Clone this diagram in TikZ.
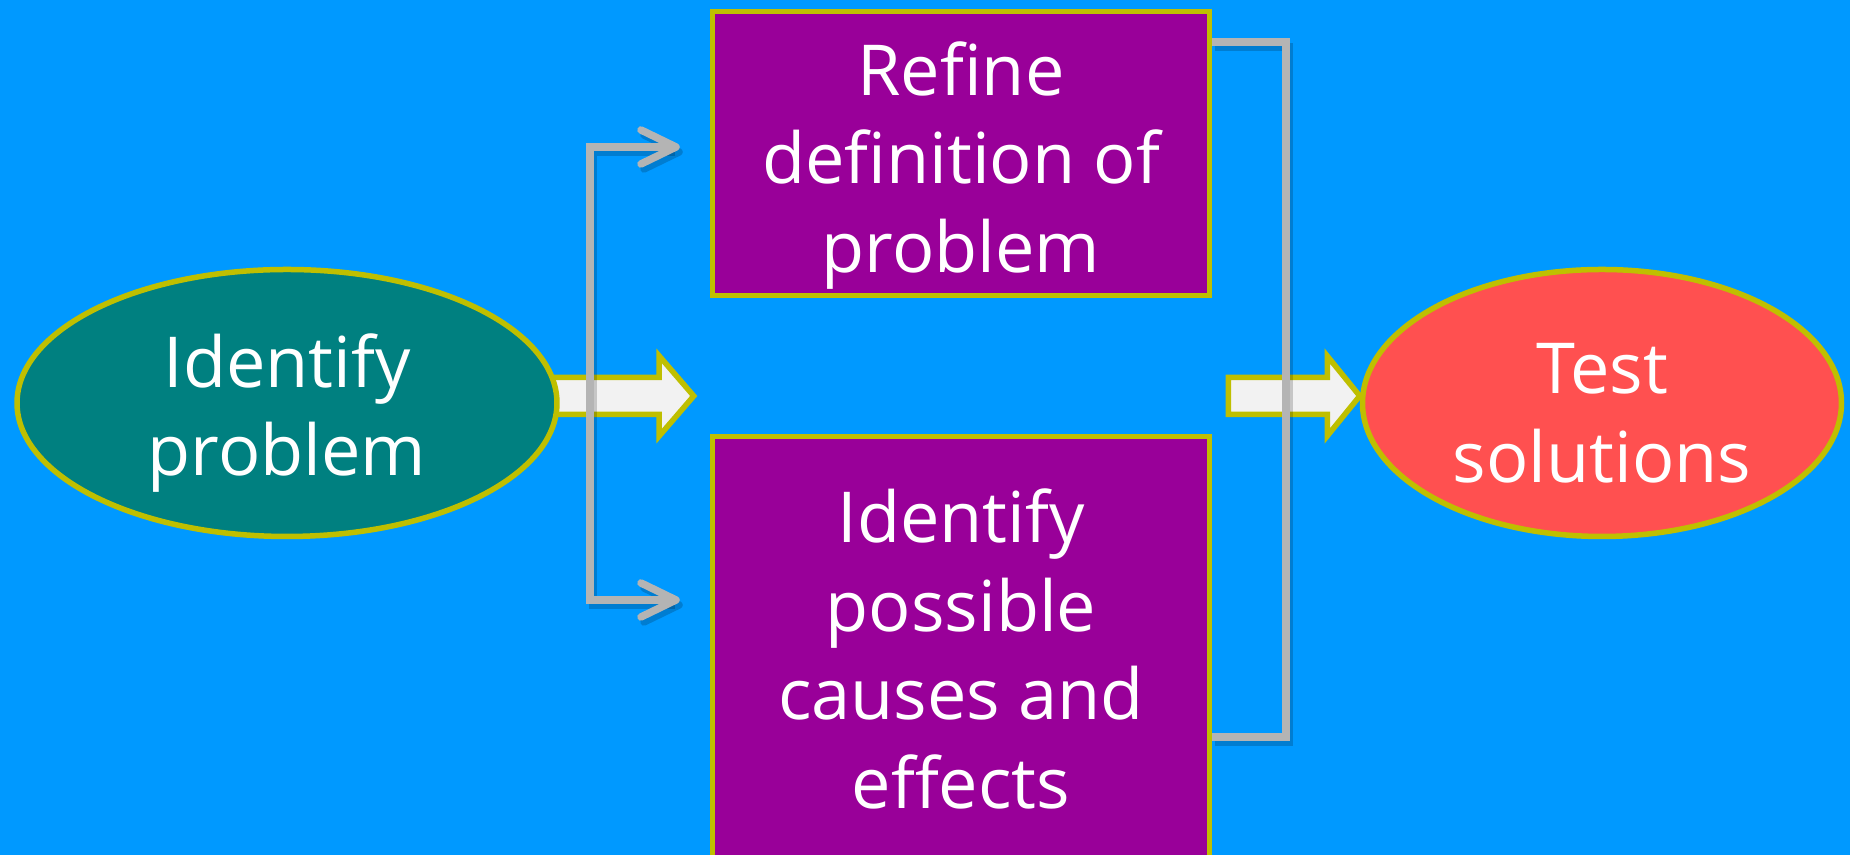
\documentclass[tikz,border=0pt]{standalone}
\usepackage{fontspec}
\setmainfont[Ligatures=NoCommon]{Open Sans}
\usetikzlibrary{arrows.meta,shapes.geometric,calc}
\definecolor{bgblue}{RGB}{0,153,255}
\definecolor{tealfill}{RGB}{0,128,128}
\definecolor{purp}{RGB}{153,0,153}
\definecolor{edgey}{RGB}{191,191,0}
\definecolor{coral}{RGB}{255,80,80}
\definecolor{arrowfill}{RGB}{242,242,242}
\definecolor{conn}{RGB}{180,180,180}
\pgfdeclarelayer{bglayer}
\pgfdeclarelayer{midlayer}
\pgfsetlayers{bglayer,midlayer,main}
\begin{document}
\begin{tikzpicture}[x=0.1mm,y=-0.1mm,
  lbl/.style={text=white, font=\fontsize{20}{25.2}\selectfont, align=center},
  oval/.style={ellipse, draw=edgey, line width=0.55mm, lbl, inner sep=0pt},
  boxx/.style={rectangle, draw=edgey, line width=0.55mm, fill=purp, lbl, minimum width=49.7mm, inner sep=0pt},
  blk/.style={draw=edgey, line width=0.55mm, fill=arrowfill, line join=miter},
  gline/.style={draw=conn, line width=0.75mm, line join=miter,
    preaction={draw=black, opacity=0.18, line width=0.75mm, transform canvas={xshift=0.3mm, yshift=-0.5mm}}},
  barb/.tip={Straight Barb[length=3.5mm,width=3.4mm,round]}]
\useasboundingbox (0,0) rectangle (1850,855);
\clip (0,0) rectangle (1850,855);
\begin{pgfonlayer}{bglayer}
\fill[bgblue] (0,0) rectangle (1850,855);
\end{pgfonlayer}

\node[oval, fill=tealfill, minimum width=54mm, minimum height=26.7mm] (idp) at (287,403) {};
\node[lbl] (idptxt) at ($(idp.center)+(0,10)$) {Identify\\problem};
\node[oval, fill=coral, minimum width=47.9mm, minimum height=26.7mm] (test) at (1602,403) {};
\node[lbl] (testtxt) at ($(test.center)+(0,10)$) {Test\\solutions};
\node[boxx, minimum height=28.4mm] (refine) at (961,153.5) {};
\node[lbl] (refinetxt) at ($(refine.center)+(0,12)$) {Refine\\definition of\\problem};
\node[boxx, minimum height=42.5mm] (causes) at (961,649) {Identify\\possible\\causes and\\effects};

\begin{pgfonlayer}{midlayer}
\coordinate (lc) at ($(idp.east)+(-15,-7)$);
\draw[blk] ($(lc)+(0,-18.5)$) -- ++(114.5,0) -- ++(0,-21.5) -- ++(34.5,40) -- ++(-34.5,40) -- ++(0,-21.5) -- ++(-114.5,0) -- cycle;
\coordinate (rc) at ($(test.west)+(-131.5,-7)$);
\draw[blk] ($(rc)+(0,-18.5)$) -- ++(99,0) -- ++(0,-21.5) -- ++(32.5,40) -- ++(-32.5,40) -- ++(0,-21.5) -- ++(-99,0) -- cycle;
\end{pgfonlayer}

\coordinate (l1) at (590,147);
\coordinate (l2) at (590,600);
\draw[gline, barb-barb] ($(refine.west |- l1)+(-30,0)$) -- (l1) -- (l2) -- ($(causes.west |- l2)+(-30,0)$);

\coordinate (r1) at (1286,42);
\coordinate (r2) at (1286,737);
\draw[gline] (refine.east |- r1) -- (r1) -- (r2) -- (causes.east |- r2);
\end{tikzpicture}
\end{document}
